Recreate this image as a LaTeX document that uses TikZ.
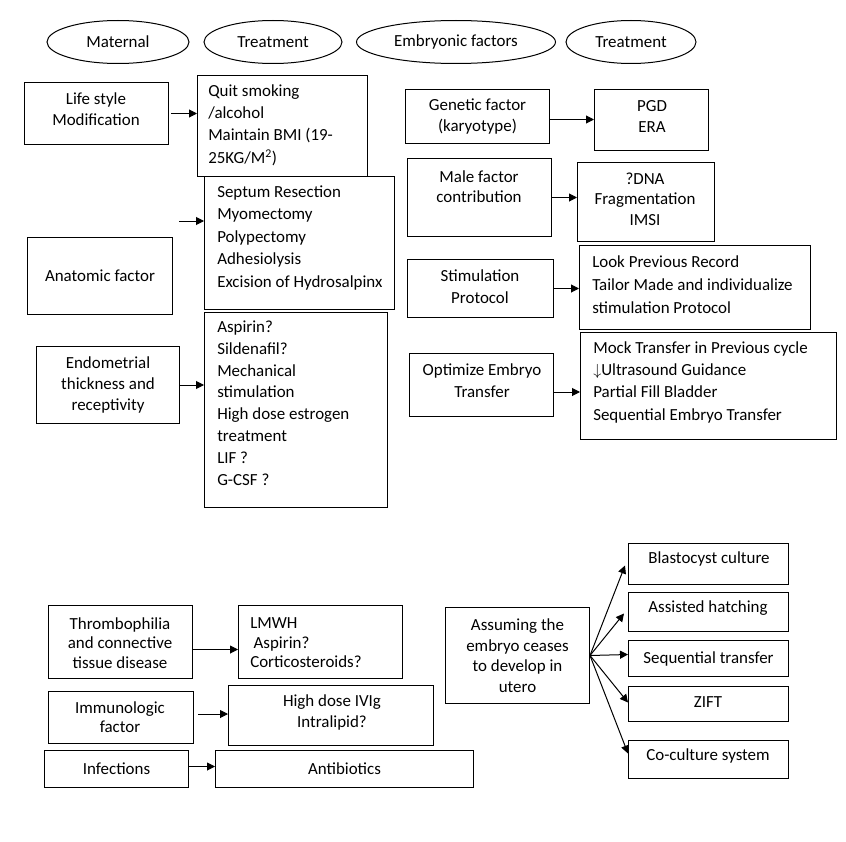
\documentclass[tikz,border=0pt]{standalone}
\usepackage{fontspec}
\setmainfont{Carlito}
\usetikzlibrary{arrows.meta,shapes.geometric}
\newdimen\px \px=0.75pt
\newcommand\ctext{\fontsize{12.7}{15.4}\selectfont}
\newcommand\ltext{\fontsize{12.7}{16.7}\selectfont}
\newcommand\topstrut{\rule{0pt}{10pt}}
\newcommand\mybox[6]{\node[box,minimum width=#4\px,minimum height=#5\px] (#1) at (#2,#3) {#6};}
\tikzset{
  box/.style={draw, line width=0.75pt, rectangle, anchor=north west, inner sep=0pt, align=center, font=\ctext},
  oval/.style={draw, ellipse, line width=0.75pt, inner sep=0pt, font=\ctext},
  txt/.style={inner sep=0pt, align=center, font=\ctext},
  lst/.style={inner sep=0pt, align=left, anchor=north west, font=\ltext},
  arr/.style={-{Triangle[length=6pt,width=6pt]}, line width=0.75pt},
}
\begin{document}
\begin{tikzpicture}[x=0.75pt,y=-0.75pt]
\useasboundingbox (0,0) rectangle (846,842);
% header ellipses
\node[oval,minimum width=142\px,minimum height=43\px] (e1) at (118,42) {Maternal};
\node[oval,minimum width=138\px,minimum height=43\px] (e2) at (273,42) {Treatment};
\node[oval,minimum width=199\px,minimum height=43\px] (e3) at (456,42) {Embryonic factors};
\node[oval,minimum width=130\px,minimum height=43\px] (e4) at (631,42) {Treatment};
% maternal column
\mybox{life}{24}{82}{144}{62}{}
\node[txt] (tlife) at (96,109) {Life style\\Modification};
\mybox{quit}{197}{75}{170}{101}{}
\node[lst] (tquit) at (208,82.7) {\topstrut Quit smoking\\/alcohol\\Maintain BMI (19-\\25KG/M\textsuperscript{2})};
\mybox{sept}{204}{176}{190}{133}{}
\node[lst,font={\fontsize{12.7}{16.9}\selectfont}] (tsept) at (217,183.7) {\topstrut Septum Resection\\Myomectomy\\Polypectomy\\Adhesiolysis\\Excision of Hydrosalpinx};
\mybox{anat}{27}{237}{145}{77}{Anatomic factor}
\mybox{endo}{36}{346}{143}{77}{Endometrial\\thickness and\\receptivity}
\mybox{aspi}{204}{312}{183}{195}{}
\node[lst,font={\fontsize{12.7}{16.4}\selectfont}] (taspi) at (217,318.7) {\topstrut Aspirin?\\Sildenafil?\\Mechanical\\stimulation\\High dose estrogen\\treatment\\LIF ?\\G-CSF ?};
% embryonic column
\mybox{gene}{405}{89}{144}{54}{Genetic factor\\(karyotype)}
\mybox{pgd}{594}{89}{114}{61}{}
\node[txt] (tpgd) at (652,116.5) {PGD\\ERA};
\mybox{male}{407}{158}{144}{78}{}
\node[txt] (tmale) at (479,186.5) {Male factor\\contribution};
\mybox{dna}{577}{162}{137}{79}{}
\node[txt] (tdna) at (645,199) {?DNA\\Fragmentation\\IMSI};
\mybox{stim}{407}{259}{146}{58}{}
\node[txt,font={\fontsize{12.7}{16.5}\selectfont}] (tstim) at (480,287) {Stimulation\\Protocol};
\mybox{look}{579}{245}{231}{84}{}
\node[lst,font={\fontsize{12.7}{17.2}\selectfont}] (tlook) at (592,253.7) {\topstrut Look Previous Record\\Tailor Made and individualize\\stimulation Protocol};
\mybox{opt}{409}{353}{144}{63}{}
\node[txt,font={\fontsize{12.7}{16.5}\selectfont}] (topt) at (482,381) {Optimize Embryo\\Transfer};
\mybox{mock}{580}{332}{256}{107}{}
\node[lst] (tmock) at (593,339.7) {\topstrut Mock Transfer in Previous cycle\\$\downarrow$Ultrasound Guidance\\Partial Fill Bladder\\Sequential Embryo Transfer};
% lower left
\mybox{thr}{48}{605}{144}{73}{}
\node[txt,font={\fontsize{12.7}{14.8}\selectfont}] (tthr) at (120,643) {Thrombophilia\\and connective\\tissue disease};
\mybox{lmwh}{238}{605}{164}{73}{}
\node[lst,font={\fontsize{12.7}{14.8}\selectfont}] (tlmwh) at (250,614.7) {\topstrut LMWH\\\hspace{0.2em}Aspirin?\\Corticosteroids?};
\mybox{imm}{48}{691}{145}{52}{}
\node[txt,font={\fontsize{12.7}{14.6}\selectfont}] (timm) at (120,717) {Immunologic\\factor};
\mybox{ivig}{228}{685}{205}{60}{}
\node[txt,font={\fontsize{12.7}{15.8}\selectfont}] (tivig) at (332,712.5) {High dose IVIg\\Intralipid?};
\mybox{inf}{44}{750}{144}{37}{Infections}
\mybox{anti}{215}{750}{258}{37}{Antibiotics}
% lower right
\mybox{assu}{445}{607}{144}{96}{Assuming the\\embryo ceases\\to develop in\\utero}
\mybox{b1}{628}{543}{160}{41}{}
\node[txt] (tb1) at (709,559) {Blastocyst culture};
\mybox{b2}{628}{592}{160}{39}{}
\node[txt] (tb2) at (708,608) {Assisted hatching};
\mybox{b3}{628}{640}{160}{36}{Sequential transfer}
\mybox{b4}{628}{686}{160}{35}{}
\node[txt] (tb4) at (708,702) {ZIFT};
\mybox{b5}{628}{740}{160}{38}{}
\node[txt] (tb5) at (708,756) {Co-culture system};
% connectors
\coordinate (l0) at ([xshift=2\px]life.east);
\draw[arr] (l0) -- (l0 -| quit.west);
\coordinate (s0) at (179,221);
\draw[arr] (s0) -- (s0 -| sept.west);
\draw[arr] (endo.east) -- (endo.east -| aspi.west);
\coordinate (g0) at ([yshift=-3\px]gene.east);
\draw[arr] (g0) -- (g0 -| pgd.west);
\draw[arr] (male.east) -- (male.east -| dna.west);
\draw[arr] (stim.east) -- (stim.east -| look.west);
\coordinate (o0) at ([yshift=-7\px]opt.east);
\draw[arr] (o0) -- (o0 -| mock.west);
\coordinate (t0) at ([yshift=-7.5\px]thr.east);
\draw[arr] (t0) -- (t0 -| lmwh.west);
\coordinate (i0) at (198,714);
\draw[arr] (i0) -- (i0 -| ivig.west);
\coordinate (f0) at ([yshift=2.5\px]inf.east);
\draw[arr] (f0) -- (f0 -| anti.west);
\draw[arr] (assu.east) -- ([xshift=-3\px,yshift=-1.5\px]b1.west);
\draw[arr] (assu.east) -- ([xshift=-4\px,yshift=-1.5\px]b2.west);
\draw[arr] (assu.east) -- ([yshift=4\px]b3.west);
\draw[arr] (assu.east) -- ([yshift=1.5\px]b4.west);
\draw[arr] (assu.east) -- ([yshift=6\px]b5.west);
\end{tikzpicture}
\end{document}
